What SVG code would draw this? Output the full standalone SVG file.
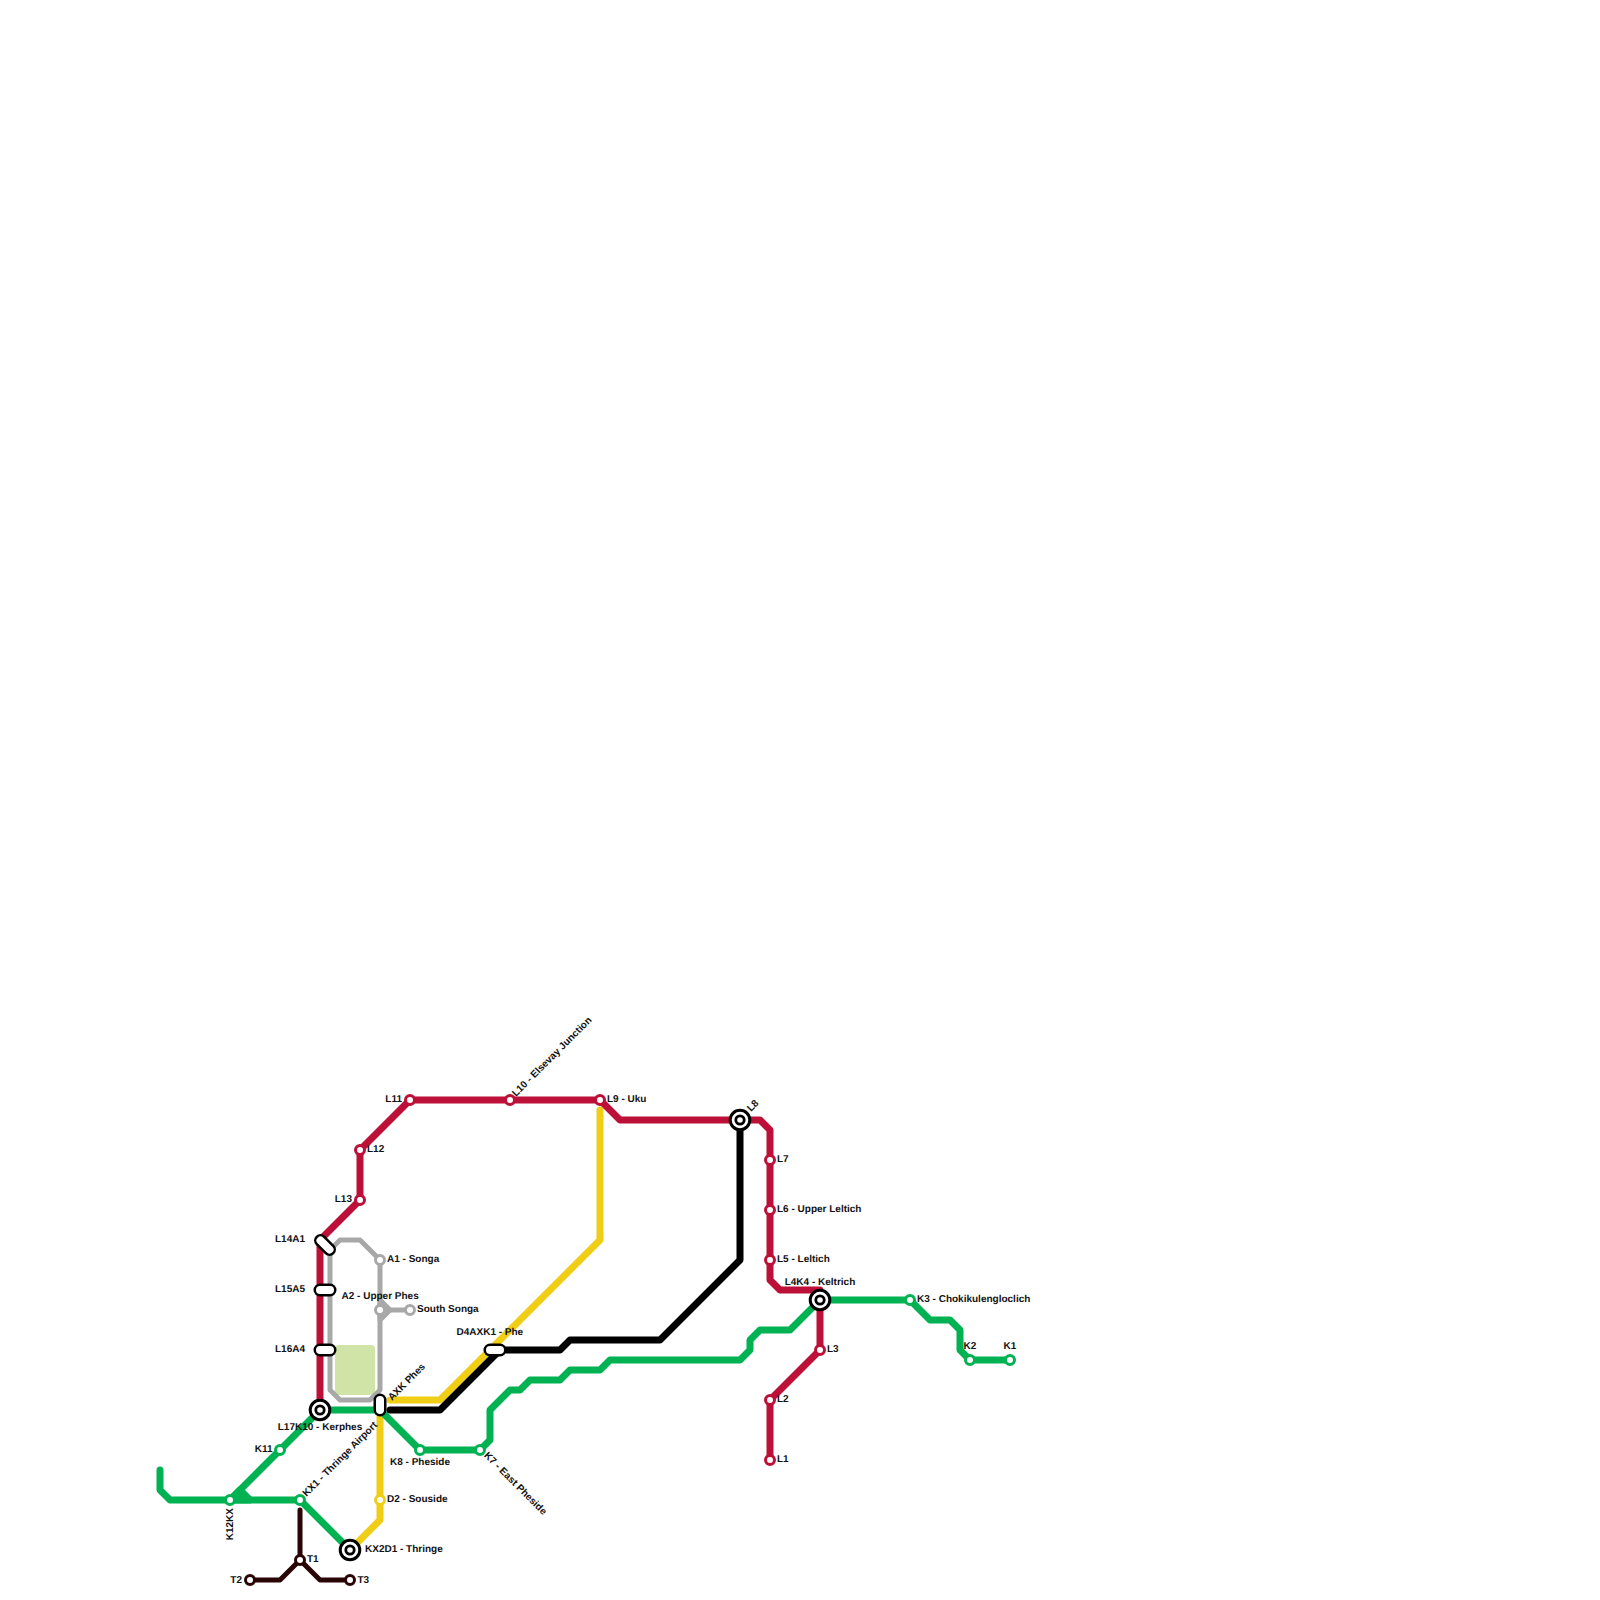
<svg xmlns="http://www.w3.org/2000/svg" width="1600" height="1600" viewBox="0 0 1600 1600">
<style>
.ln{fill:none;stroke-width:7;stroke-linecap:round;stroke-linejoin:round}
.r{stroke:#bd1038}.g{stroke:#00b251}.y{stroke:#f0ce15}.k{stroke:#000}
.a{stroke:#a8a8a8;stroke-width:5}.t{stroke:#2a0505;stroke-width:5}
.st{fill:#fff;stroke-width:3}
.red{stroke:#bd1038}.grn{stroke:#00b251}.yel{stroke:#f0ce15}.gry{stroke:#a8a8a8}.dk{stroke:#2a0505}
.po{fill:none;stroke:#000;stroke-width:13;stroke-linecap:round}
.pi{fill:none;stroke:#fff;stroke-width:8;stroke-linecap:round}
.h1{fill:#fff;stroke:#000;stroke-width:3}
.h2{fill:#fff;stroke:#000;stroke-width:2.800}
text{font-family:"Liberation Sans",Arial,sans-serif;font-size:10px;font-weight:bold;fill:#111;text-rendering:geometricPrecision}
.e{text-anchor:end}.m{text-anchor:middle}
</style>
<rect x="335" y="1345" width="40" height="50" rx="4" fill="#d0e4a7"/>
<g id="connectors">
<path class="ln a" d="M330 1250L340 1240H360L380 1260V1390L370 1400H340L330 1390V1250"/>
<path class="ln a" style="fill:#a8a8a8" d="M380 1300L390 1310L380 1320Z"/>
<path class="ln a" d="M380 1310H410"/>
<path class="ln y" d="M600 1110V1240L440 1400H390M380 1417V1520L350 1550"/>
<path class="ln g" d="M160 1470V1490L170 1500H300L350 1550M230 1500L320 1410"/>
<path class="ln g" style="fill:#00b251" d="M240 1490L250 1500H230Z"/>
<path class="ln g" d="M320 1410H380L420 1450H480L490 1440V1410L510 1390H520L530 1380H560L570 1370H600L610 1360H740L750 1350V1340L760 1330H790L820 1300H910L930 1320H950L960 1330V1350L970 1360H1010"/>
<path class="ln r" d="M770 1460V1400L820 1350V1290H780L770 1280V1130L760 1120H620L600 1100H410L360 1150V1200L320 1240V1410"/>
<path class="ln k" d="M740 1120V1260L660 1340H570L560 1350H500L440 1410H390"/>
<path class="ln t" d="M300 1510V1560L280 1580H250M300 1560L320 1580H350"/>
</g>
<g id="L1"><circle class="st red" cx="770" cy="1460" r="4.500"/><text x="777" y="1462.200">L1</text></g>
<g id="L2"><circle class="st red" cx="770" cy="1400" r="4.500"/><text x="777" y="1402.200">L2</text></g>
<g id="L3"><circle class="st red" cx="820" cy="1350" r="4.500"/><text x="827" y="1352.200">L3</text></g>
<g id="L4K4"><circle cx="820" cy="1300" r="9.800" class="h1"/><circle cx="820" cy="1300" r="4.200" class="h2"/><text class="m" x="820" y="1285">L4K4 - Keltrich</text></g>
<g id="L5"><circle class="st red" cx="770" cy="1260" r="4.500"/><text x="777" y="1262.200">L5 - Leltich</text></g>
<g id="L6"><circle class="st red" cx="770" cy="1210" r="4.500"/><text x="777" y="1212.200">L6 - Upper Leltich</text></g>
<g id="L7"><circle class="st red" cx="770" cy="1160" r="4.500"/><text x="777" y="1162.200">L7</text></g>
<g id="L8"><circle cx="740" cy="1120" r="9.800" class="h1"/><circle cx="740" cy="1120" r="4.200" class="h2"/><text transform="translate(751 1112) rotate(-45)">L8</text></g>
<g id="L9"><circle class="st red" cx="600" cy="1100" r="4.500"/><text x="607" y="1102.200">L9 - Uku</text></g>
<g id="L10"><circle class="st red" cx="510" cy="1100" r="4.500"/><text transform="translate(516 1097) rotate(-45)">L10 - Elsevay Junction</text></g>
<g id="L11"><circle class="st red" cx="410" cy="1100" r="4.500"/><text class="e" x="402" y="1102.200">L11</text></g>
<g id="L12"><circle class="st red" cx="360" cy="1150" r="4.500"/><text x="367" y="1152.200">L12</text></g>
<g id="L13"><circle class="st red" cx="360" cy="1200" r="4.500"/><text class="e" x="352" y="1202.200">L13</text></g>
<g id="L14A1"><path class="po" d="M320.500 1240.500L329.500 1249.500"/><path class="pi" d="M320.500 1240.500L329.500 1249.500"/><text class="e" x="305" y="1242.200">L14A1</text></g>
<g id="L15A5"><path class="po" d="M320 1290H330"/><path class="pi" d="M320 1290H330"/><text class="e" x="305" y="1292.200">L15A5</text></g>
<g id="L16A4"><path class="po" d="M320 1350H330"/><path class="pi" d="M320 1350H330"/><text class="e" x="305" y="1352.200">L16A4</text></g>
<g id="L17K10"><circle cx="320" cy="1410" r="9.800" class="h1"/><circle cx="320" cy="1410" r="4.200" class="h2"/><text class="m" x="320" y="1430">L17K10 - Kerphes</text></g>
<g id="K1"><circle class="st grn" cx="1010" cy="1360" r="4.500"/><text class="m" x="1010" y="1349.200">K1</text></g>
<g id="K2"><circle class="st grn" cx="970" cy="1360" r="4.500"/><text class="m" x="970" y="1349.200">K2</text></g>
<g id="K3"><circle class="st grn" cx="910" cy="1300" r="4.500"/><text x="917" y="1302.200">K3 - Chokikulengloclich</text></g>
<g id="K7"><circle class="st grn" cx="480" cy="1450" r="4.500"/><text transform="translate(483.500 1456) rotate(45)">K7 - East Pheside</text></g>
<g id="K8"><circle class="st grn" cx="420" cy="1450" r="4.500"/><text class="m" x="420" y="1465">K8 - Pheside</text></g>
<g id="K11"><circle class="st grn" cx="280" cy="1450" r="4.500"/><text class="e" x="272.500" y="1452.200">K11</text></g>
<g id="K12KX"><circle class="st grn" cx="230" cy="1500" r="4.500"/><text class="e" transform="translate(233 1508) rotate(-90)">K12KX</text></g>
<g id="KX1"><circle class="st grn" cx="300" cy="1500" r="4.500"/><text transform="translate(306.500 1497) rotate(-45)">KX1 - Thringe Airport</text></g>
<g id="KX2D1"><circle cx="350" cy="1550" r="9.800" class="h1"/><circle cx="350" cy="1550" r="4.200" class="h2"/><text x="365" y="1552.200">KX2D1 - Thringe</text></g>
<g id="A1"><circle class="st gry" cx="380" cy="1260" r="4.500"/><text x="387" y="1262.200">A1 - Songa</text></g>
<g id="A2"><circle class="st gry" cx="380" cy="1310" r="4.500"/><text x="341.500" y="1299">A2 - Upper Phes</text></g>
<g id="SouthSonga"><circle class="st gry" cx="410" cy="1310" r="4.500"/><text x="417" y="1312">South Songa</text></g>
<g id="AXK"><path class="po" d="M380 1400V1410"/><path class="pi" d="M380 1400V1410"/><text transform="translate(392 1401) rotate(-45)">AXK Phes</text></g>
<g id="D2"><circle class="st yel" cx="380" cy="1500" r="4.500"/><text x="387" y="1502.200">D2 - Souside</text></g>
<g id="D4AXK1"><path class="po" d="M490 1350H500"/><path class="pi" d="M490 1350H500"/><text x="456.500" y="1335">D4AXK1 - Phe</text></g>
<g id="T1"><circle class="st dk" cx="300" cy="1560" r="4.500"/><text x="307" y="1562.200">T1</text></g>
<g id="T2"><circle class="st dk" cx="250" cy="1580" r="4.500"/><text class="e" x="242" y="1583">T2</text></g>
<g id="T3"><circle class="st dk" cx="350" cy="1580" r="4.500"/><text x="357.500" y="1583">T3</text></g>
</svg>
